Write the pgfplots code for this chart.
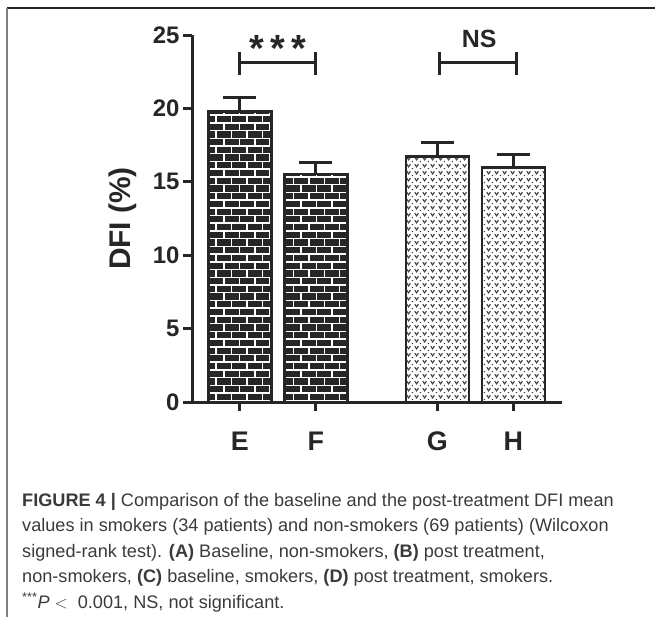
\documentclass[border=0pt]{standalone}
\usepackage{pgfplots}
\pgfplotsset{compat=1.18}
\usepackage{graphicx}
\usepackage{fontspec}
\setmainfont{Liberation Sans}
\usetikzlibrary{patterns}

\definecolor{ink}{HTML}{262626}
\definecolor{captxt}{HTML}{3A3A3A}

% white mortar lines over a dark fill
\pgfdeclarepatternformonly{thickbricks}{\pgfqpoint{-1pt}{-1pt}}{\pgfqpoint{16.5pt}{16.5pt}}{\pgfqpoint{15.5pt}{15.5pt}}{%
  \pgfsetlinewidth{1.5pt}%
  \pgfpathmoveto{\pgfqpoint{0pt}{0pt}}\pgfpathlineto{\pgfqpoint{15.5pt}{0pt}}%
  \pgfpathmoveto{\pgfqpoint{0pt}{7.75pt}}\pgfpathlineto{\pgfqpoint{15.5pt}{7.75pt}}%
  \pgfpathmoveto{\pgfqpoint{0pt}{0pt}}\pgfpathlineto{\pgfqpoint{0pt}{7.75pt}}%
  \pgfpathmoveto{\pgfqpoint{7.75pt}{7.75pt}}\pgfpathlineto{\pgfqpoint{7.75pt}{15.5pt}}%
  \pgfusepath{stroke}}

% small v marks for the stippled bars
\pgfdeclarepatternformonly{vmarks}{\pgfqpoint{0pt}{0pt}}{\pgfqpoint{8pt}{7pt}}{\pgfqpoint{8pt}{7pt}}{%
  \pgfsetlinewidth{1.1pt}%
  \pgfpathmoveto{\pgfqpoint{0.8pt}{5.8pt}}\pgfpathlineto{\pgfqpoint{2.6pt}{3.2pt}}\pgfpathlineto{\pgfqpoint{4.4pt}{5.8pt}}%
  \pgfusepath{stroke}%
  \pgfpathcircle{\pgfqpoint{6.3pt}{1.5pt}}{0.75pt}\pgfusepath{fill}}

\begin{document}
\begin{tikzpicture}
\path[use as bounding box] (0,0) rectangle (655bp,-617bp);
% figure frame
\draw[line width=1.5bp, ink] (7bp,-8bp) -- (655bp,-8bp);
\draw[line width=1.5bp, black!50] (7bp,-8bp) -- (7bp,-617bp);

\begin{axis}[
  at={(192bp,-402bp)}, anchor=south west,
  scale only axis,
  width=370bp, height=367bp,
  xmin=0.37, xmax=5.24,
  ymin=0, ymax=25,
  axis x line*=bottom,
  axis y line*=left,
  axis line style={-, line width=3bp, ink},
  xtick={1,2,3.6,4.6},
  xticklabels={E,F,G,H},
  ytick={0,5,10,15,20,25},
  tick align=outside,
  major tick length=9bp,
  tick style={line width=3bp, ink},
  xticklabel style={font=\bfseries\fontsize{27}{27}\selectfont, text=ink, yshift=-17bp},
  yticklabel style={font=\bfseries\fontsize{24}{24}\selectfont, text=ink},
  /pgf/number format/assume math mode=true,
  ylabel={DFI (\%)},
  every axis y label/.style={at={(axis description cs:-0.1865,0.5)}, rotate=90, anchor=center},
  ylabel style={font=\bfseries\fontsize{30}{30}\selectfont, text=ink},
  clip=false,
]
% smokers / non-smokers, brick bars
\addplot[ybar, bar width=63bp, bar shift=0pt, draw=ink, line width=2.5bp,
  fill=ink, postaction={pattern=thickbricks, pattern color=white},
  error bars/.cd, y dir=plus, y explicit,
  error bar style={line width=3bp, ink},
  error mark options={rotate=90, line width=3bp, ink, mark size=16.5bp}]
  coordinates {(1,19.8) +- (0,0.95) (2,15.53) +- (0,0.77)};
% stippled bars
\addplot[ybar, bar width=63bp, bar shift=0pt, draw=ink, line width=2.5bp,
  fill=white, postaction={pattern=vmarks, pattern color=ink!90},
  error bars/.cd, y dir=plus, y explicit,
  error bar style={line width=3bp, ink},
  error mark options={rotate=90, line width=3bp, ink, mark size=16.5bp}]
  coordinates {(3.6,16.71) +- (0,0.95) (4.6,15.96) +- (0,0.87)};
% significance brackets
\addplot[ink, line width=3bp] coordinates {(1,23.1) (2,23.1)};
\addplot[ink, line width=3bp] coordinates {(1,22.3) (1,23.85)};
\addplot[ink, line width=3bp] coordinates {(2,22.3) (2,23.85)};
\addplot[ink, line width=3bp] coordinates {(3.63,23.1) (4.64,23.1)};
\addplot[ink, line width=3bp] coordinates {(3.63,22.3) (3.63,23.85)};
\addplot[ink, line width=3bp] coordinates {(4.64,22.3) (4.64,23.85)};
\node[anchor=base, font=\bfseries\fontsize{38}{38}\selectfont, text=ink] at (axis cs:1.5,23.2) {*\,*\,*};
\node[anchor=base, font=\bfseries\fontsize{25}{25}\selectfont, text=ink] at (axis cs:4.15,24.17) {NS};
\end{axis}

% caption
\begin{scope}[every node/.style={anchor=base west, inner sep=0pt, text=captxt, font=\fontsize{18.2}{18.2}\selectfont}]
\node at (22bp,-506bp) {\textbf{FIGURE 4 |} Comparison of the baseline and the post-treatment DFI mean};
\node at (22bp,-531.5bp) {values in smokers (34 patients) and non-smokers (69 patients) (Wilcoxon};
\node at (22bp,-557bp) {signed-rank test). \textbf{(A)} Baseline, non-smokers, \textbf{(B)} post treatment,};
\node at (22bp,-582.5bp) {non-smokers, \textbf{(C)} baseline, smokers, \textbf{(D)} post treatment, smokers.};
\node at (22bp,-608bp) {\textsuperscript{***}\textit{P} $<$\ \ 0.001, NS, not significant.};
\end{scope}
\end{tikzpicture}
\end{document}
